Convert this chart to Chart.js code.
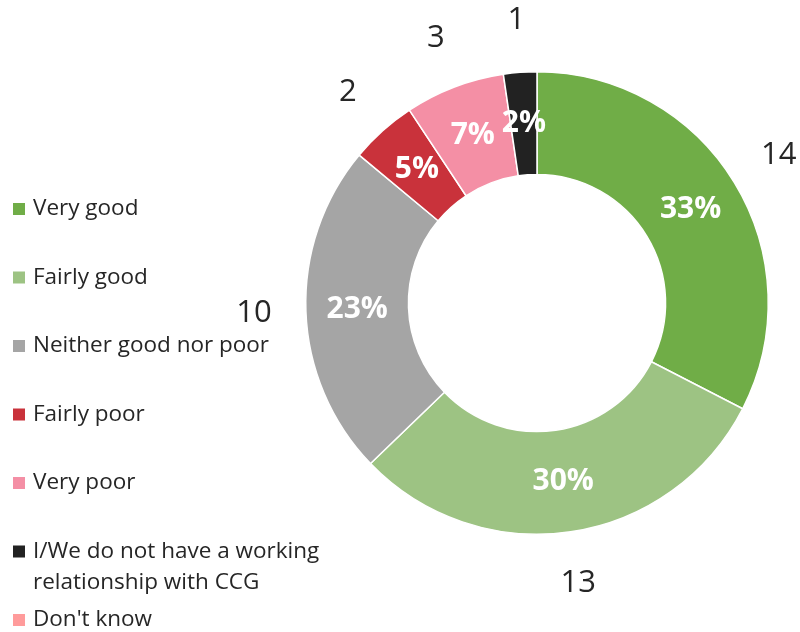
<!DOCTYPE html>
<html>
<head>
<meta charset="utf-8">
<script src="https://cdn.jsdelivr.net/npm/chart.js@4/dist/chart.umd.min.js"></script>
<style>
  html, body { margin: 0; padding: 0; background: #fff; }
  #wrap { width: 800px; height: 632px; }
</style>
</head>
<body>
<div id="wrap"><canvas id="myChart"></canvas></div>
<script>
const categories = ['Very good', 'Fairly good', 'Neither good nor poor', 'Fairly poor', 'Very poor',
  'I/We do not have a working relationship with CCG', "Don't know"];
const counts = [14, 13, 10, 2, 3, 1, 0];
const colours = ['#70AD47', '#9DC383', '#A5A5A5', '#C9323B', '#F48FA5', '#222222', '#FF9B9B'];

const total = counts.reduce((a, b) => a + b, 0);
const FONT = '"Open Sans", "Noto Sans", sans-serif';

// percentages inside the ring, counts outside
const sliceLabels = {
  id: 'sliceLabels',
  afterDatasetsDraw(chart) {
    const ctx = chart.ctx;
    const meta = chart.getDatasetMeta(0);
    meta.data.forEach((arc, i) => {
      if (!counts[i]) return;
      const p = arc.getProps(['x', 'y', 'startAngle', 'endAngle', 'innerRadius', 'outerRadius'], true);
      const mid = (p.startAngle + p.endAngle) / 2;
      const rIn = (p.innerRadius + p.outerRadius) / 2;
      const rOut = p.outerRadius + 52;
      ctx.save();
      ctx.textAlign = 'center';
      ctx.textBaseline = 'middle';
      ctx.font = 'bold 30px ' + FONT;
      ctx.fillStyle = '#ffffff';
      ctx.fillText(Math.round(counts[i] / total * 100) + '%', p.x + Math.cos(mid) * rIn, p.y + Math.sin(mid) * rIn);
      ctx.font = '31px ' + FONT;
      ctx.fillStyle = '#262626';
      ctx.fillText(String(counts[i]), p.x + Math.cos(mid) * rOut, p.y + Math.sin(mid) * rOut);
      ctx.restore();
    });
  }
};

// legend down the left side
const sideLegend = {
  id: 'sideLegend',
  afterDraw(chart) {
    const ctx = chart.ctx;
    ctx.save();
    ctx.font = '22.5px ' + FONT;
    ctx.textBaseline = 'middle';
    let y = 209;
    categories.forEach((name, i) => {
      ctx.fillStyle = colours[i];
      ctx.fillRect(13, y - 6, 12, 12);
      ctx.fillStyle = '#262626';
      // wrap long labels
      const words = name.split(' ');
      let line = '';
      let ly = y;
      words.forEach(w => {
        const test = line ? line + ' ' + w : w;
        if (ctx.measureText(test).width > 300 && line) {
          ctx.fillText(line, 33, ly);
          line = w;
          ly += 31;
        } else {
          line = test;
        }
      });
      ctx.fillText(line, 33, ly);
      y += 68.5;
    });
    ctx.restore();
  }
};

const data = {
  labels: categories,
  datasets: [{
    data: counts,
    backgroundColor: colours,
    borderColor: '#ffffff',
    borderWidth: 1.5
  }]
};

const config = {
  type: 'doughnut',
  data,
  options: {
    responsive: true,
    maintainAspectRatio: false,
    animation: false,
    cutout: '55.6%',
    layout: {
      padding: { left: 305, right: 31, top: 71, bottom: 97 }
    },
    plugins: {
      legend: { display: false },
      tooltip: { enabled: false }
    }
  },
  plugins: [sliceLabels, sideLegend]
};

const myChart = new Chart(document.getElementById('myChart'), config);
</script>
</body>
</html>
